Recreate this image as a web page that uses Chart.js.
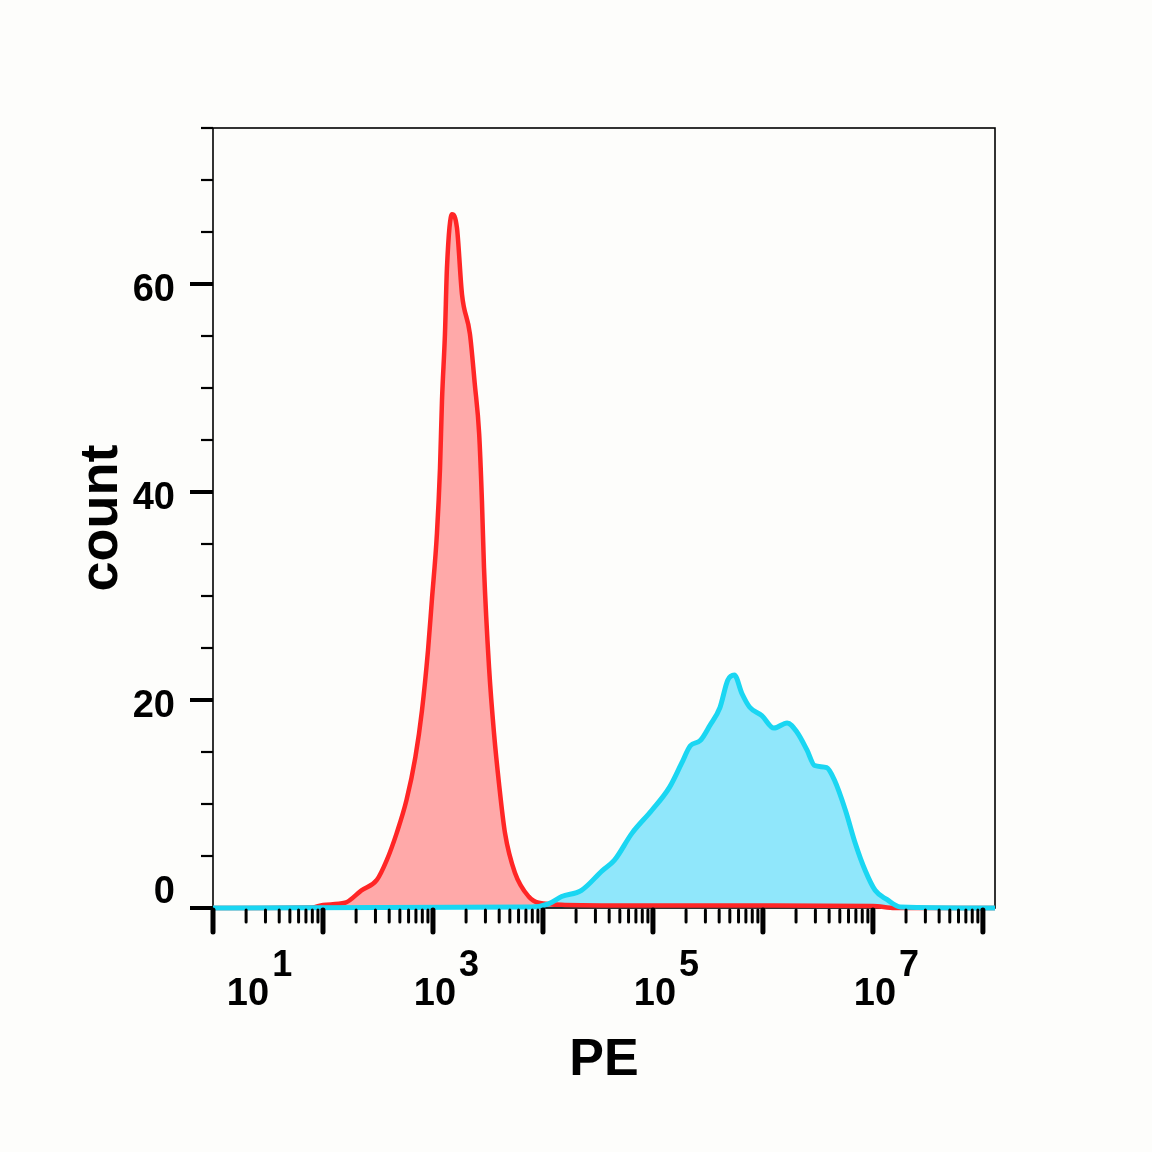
<!DOCTYPE html>
<html>
<head>
<meta charset="utf-8">
<script src="https://cdn.jsdelivr.net/npm/chart.js@4.4.1/dist/chart.umd.min.js"></script>
<style>
    html, body { margin: 0; padding: 0; background: #fdfdfb; }
    #wrap { width: 1152px; height: 1152px; position: relative; }
</style>
</head>
<body>
<div id="wrap"><canvas id="histChart"></canvas></div>
<script>
const redLog = [1.0, 1.9, 2.0, 2.2, 2.35, 2.49, 2.58, 2.67, 2.76, 2.84, 2.90, 2.955, 2.99, 3.036, 3.064, 3.082, 3.109, 3.127, 3.173, 3.218, 3.264, 3.336, 3.38, 3.42, 3.445, 3.464, 3.51, 3.555, 3.60, 3.655, 3.745, 3.87, 3.96, 4.2, 5.0, 6.0, 7.0, 7.2, 8.11];
const redCount = [0, 0.05, 0.3, 0.5, 1.7, 2.7, 4.6, 7.2, 10.4, 14.5, 19, 24.8, 29.6, 36, 42.3, 48.8, 55.2, 61.5, 66.7, 65.4, 59, 55.2, 50.4, 45.6, 39.2, 32.7, 23.1, 16.8, 12, 7.2, 3.4, 1.1, 0.5, 0.3, 0.25, 0.25, 0.2, 0, 0];

const cyanLog = [1.0, 3.9, 4.05, 4.17, 4.35, 4.54, 4.65, 4.81, 4.99, 5.15, 5.26, 5.34, 5.43, 5.52, 5.61, 5.68, 5.74, 5.81, 5.88, 5.99, 6.10, 6.22, 6.31, 6.40, 6.47, 6.58, 6.65, 6.75, 6.84, 6.93, 7.02, 7.13, 7.25, 8.11];
const cyanCount = [0, 0.1, 0.4, 1.1, 1.7, 3.6, 4.6, 7.2, 9.4, 11.6, 13.9, 15.6, 16.1, 17.6, 19.3, 21.9, 22.4, 20.6, 19.3, 18.5, 17.3, 17.8, 16.9, 15.2, 13.7, 13.5, 12.3, 9.4, 6.2, 3.6, 1.7, 0.8, 0.1, 0];

const yLabels = [0, 20, 40, 60];
const xLabelDecades = [1, 3, 5, 7];
const xMinDecade = 1;
const xMaxDecade = 8.11;

const FONT = '"Liberation Sans", Arial, sans-serif';

function toPoints(logs, counts) {
    return logs.map((l, i) => ({ x: Math.pow(10, l), y: counts[i] }));
}

// axis ticks, box and decade labels drawn from the scales
const axisDecor = {
    id: 'axisDecor',
    beforeDatasetsDraw(chart) {
        const { ctx, chartArea: a, scales: { y } } = chart;
        ctx.save();
        ctx.strokeStyle = '#000';
        ctx.lineWidth = 1.6;
        ctx.strokeRect(a.left, a.top, a.right - a.left, a.bottom - a.top);

        // y ticks every 5
        for (let v = 0; v <= 75; v += 5) {
            const py = y.getPixelForValue(v);
            const major = v % 20 === 0;
            ctx.lineWidth = major ? 4 : 2.2;
            ctx.beginPath();
            ctx.moveTo(a.left - (major ? 23 : 12), py);
            ctx.lineTo(a.left, py);
            ctx.stroke();
        }
        ctx.restore();
    },
    afterDatasetsDraw(chart) {
        const { ctx, chartArea: a, scales: { x } } = chart;
        ctx.save();
        ctx.strokeStyle = '#000';
        ctx.lineCap = 'round';
        for (let e = xMinDecade; e <= 8; e++) {
            for (let m = 1; m <= 9; m++) {
                const v = m * Math.pow(10, e);
                if (v > x.max) break;
                const px = x.getPixelForValue(v);
                const major = m === 1;
                ctx.lineWidth = major ? 5 : 3;
                ctx.beginPath();
                ctx.moveTo(px, a.bottom + 2);
                ctx.lineTo(px, a.bottom + (major ? 24 : 14));
                ctx.stroke();
            }
        }

        ctx.fillStyle = '#000';
        ctx.textBaseline = 'alphabetic';
        xLabelDecades.forEach(e => {
            const px = x.getPixelForValue(Math.pow(10, e));
            const cx = Math.max(px + 2, a.left + 35);
            ctx.font = 'bold 38px ' + FONT;
            ctx.textAlign = 'center';
            ctx.fillText('10', cx, 1005);
            const w = ctx.measureText('10').width;
            ctx.font = 'bold 36px ' + FONT;
            ctx.textAlign = 'left';
            ctx.fillText(String(e), cx + w / 2 + 3, 976);
        });
        ctx.restore();
    }
};

function drawHistogram() {
    const ctx = document.getElementById('histChart');
    new Chart(ctx, {
        type: 'line',
        data: {
            datasets: [
                {
                    label: 'stained',
                    data: toPoints(cyanLog, cyanCount),
                    borderColor: '#1ad6f2',
                    backgroundColor: '#90e7fb',
                    borderWidth: 5,
                    fill: 'origin',
                    pointRadius: 0,
                    tension: 0.4,
                    cubicInterpolationMode: 'monotone',
                    clip: 8
                },
                {
                    label: 'control',
                    data: toPoints(redLog, redCount),
                    borderColor: '#ff2626',
                    backgroundColor: '#ffa9a9',
                    borderWidth: 4.5,
                    fill: 'origin',
                    pointRadius: 0,
                    tension: 0.4,
                    cubicInterpolationMode: 'monotone',
                    clip: 8
                }
            ]
        },
        options: {
            responsive: true,
            maintainAspectRatio: false,
            animation: false,
            layout: { padding: { left: 0, top: 128, right: 157, bottom: 0 } },
            plugins: {
                legend: { display: false },
                tooltip: { enabled: false },
                filler: { drawTime: 'beforeDatasetsDraw' }
            },
            scales: {
                x: {
                    type: 'logarithmic',
                    min: Math.pow(10, xMinDecade),
                    max: Math.pow(10, xMaxDecade),
                    grid: { display: false },
                    border: { display: false },
                    ticks: { display: false },
                    title: {
                        display: true,
                        text: 'PE',
                        color: '#000',
                        font: { family: FONT, size: 52, weight: 'bold' },
                        padding: { top: 0, bottom: 60 }
                    },
                    afterFit(scale) { scale.height = 244; }
                },
                y: {
                    min: 0,
                    max: 75,
                    grid: { display: false, drawTicks: false },
                    border: { display: false },
                    ticks: {
                        stepSize: 5,
                        padding: 38,
                        labelOffset: 7,
                        color: '#000',
                        font: { family: FONT, size: 38, weight: 'bold' },
                        callback: v => {
                            if (!yLabels.includes(v)) return '';
                            return v === 0 ? ['0', ''] : String(v);
                        }
                    },
                    title: {
                        display: true,
                        text: 'count',
                        color: '#000',
                        font: { family: FONT, size: 54, weight: 'bold' },
                        padding: { top: 70, bottom: 0 }
                    },
                    afterFit(scale) { scale.width = 213; }
                }
            }
        },
        plugins: [axisDecor]
    });
}

drawHistogram();
</script>
</body>
</html>
